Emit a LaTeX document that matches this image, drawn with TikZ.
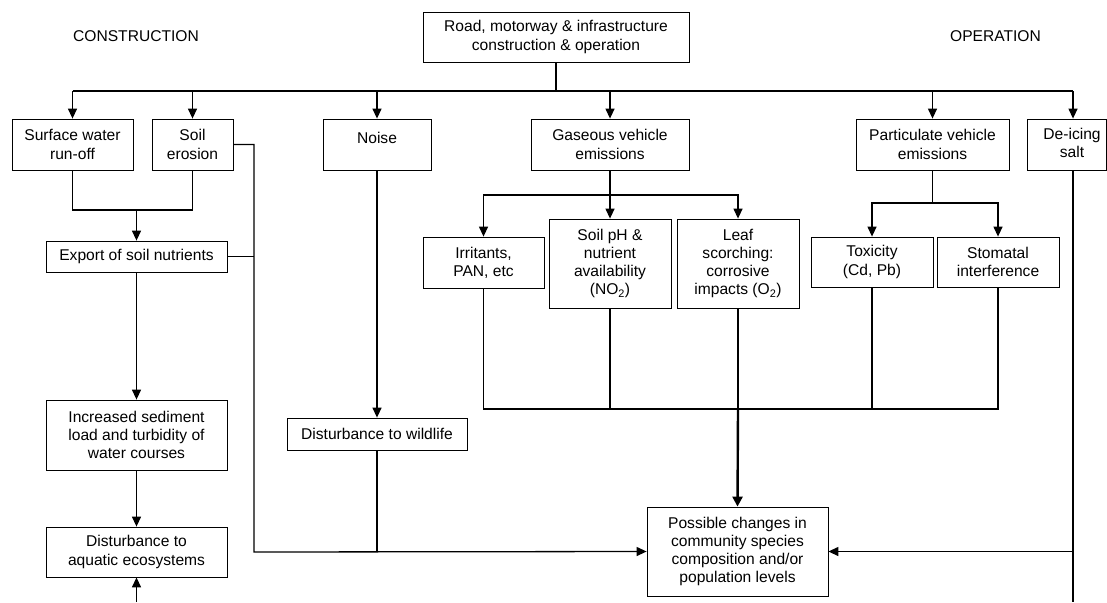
\documentclass[tikz,border=0pt]{standalone}
\usepackage{fontspec}
\setmainfont{Liberation Sans}
\usetikzlibrary{arrows.meta}
\tikzset{
  box/.style={draw, line width=0.8pt, rectangle, inner sep=0pt, align=center,
    font=\fontsize{15.6}{18.3}\selectfont},
  lbl/.style={inner sep=0pt, font=\fontsize{15.6}{18.3}\selectfont},
  conn/.style={line width=1.3pt},
  arr/.style={line width=1.3pt, -{Triangle[length=10pt,width=9pt]}},
  thickarr/.style={line width=2.4pt, -{Triangle[length=10pt,width=10pt]}},
}
\begin{document}
\begin{tikzpicture}[x=1pt,y=-1pt]
\useasboundingbox (0,0) rectangle (1107,602);

% labels
\node[lbl] (cons) at (136,36) {CONSTRUCTION};
\node[lbl] (oper) at (995.5,36) {OPERATION};

% boxes
\node[box, minimum width=266, minimum height=50] (top) at (556,37) {Road, motorway \& infrastructure\\construction \& operation};
\node[box, minimum width=121, minimum height=51] (sw) at (72.5,144.5) {Surface water\\run-off};
\node[box, minimum width=81, minimum height=51] (se) at (192.5,144.5) {Soil\\erosion};
\node[box, minimum width=108, minimum height=51, text depth=14pt] (noise) at (377,144.5) {Noise};
\node[box, minimum width=158, minimum height=51] (gas) at (610,144.5) {Gaseous vehicle\\emissions};
\node[box, minimum width=153, minimum height=51] (part) at (932.5,144.5) {Particulate vehicle\\emissions};
\node[box, minimum width=79, minimum height=51] (deice) at (1066.5,144.5) {\kern11pt\begin{tabular}{@{}c@{}}De-icing\\salt\end{tabular}};

\node[box, minimum width=181, minimum height=31] (export) at (136.5,256.5) {Export of soil nutrients};
\node[box, minimum width=181, minimum height=70] (sed) at (136.5,435) {Increased sediment\\load and turbidity of\\water courses};
\node[box, minimum width=181, minimum height=50] (aqua) at (136.5,552) {Disturbance to\\aquatic ecosystems};
\node[box, minimum width=180, minimum height=32] (wild) at (377,434) {Disturbance to wildlife};

\node[box, minimum width=121, minimum height=51] (irr) at (483.5,262.5) {Irritants,\\PAN, etc};
\node[box, minimum width=122, minimum height=89] (ph) at (610,263.5) {Soil pH \&\\nutrient\\availability\\(NO\textsubscript{2})};
\node[box, minimum width=122, minimum height=89] (leaf) at (738,263.5) {Leaf\\scorching:\\corrosive\\impacts (O\textsubscript{2})};
\node[box, minimum width=122, minimum height=50] (tox) at (872,262) {Toxicity\\(Cd, Pb)};
\node[box, minimum width=122, minimum height=50] (stom) at (998,262) {Stomatal\\interference};

\node[box, minimum width=181, minimum height=89] (poss) at (737.5,551.5) {Possible changes in\\community species\\composition and/or\\population levels};

% coordinates
\coordinate (bus) at (556,91);
\coordinate (bL) at (72.5,91);
\coordinate (bR) at (1073,91);
\coordinate (m) at (136.5,210);
\coordinate (jl) at (254,552);
\coordinate (g) at (610,195);
\coordinate (p) at (932.5,203);
\coordinate (c) at (738,409);
\coordinate (dbot) at (1073,602);
\coordinate (abot) at (136.5,602);

% main bus
\draw[line width=2.2pt] (top.south) -- (bus);
\draw[conn] (bL) -- (bR);
\draw[arr] (bL) -- (sw.north);
\draw[arr] (se.north |- bus) -- (se.north);
\draw[arr] (noise.north |- bus) -- (noise.north);
\draw[arr] (gas.north |- bus) -- (gas.north);
\draw[arr] (part.north |- bus) -- (part.north);
\draw[arr] (bR) -- (bR |- deice.north);

% construction branch
\draw[conn] (sw.south) -- (sw.south |- m) -- (se.south |- m) -- (se.south);
\draw[arr] (m) -- (export.north);
\draw[arr] (export.south) -- (sed.north);
\draw[arr] (sed.south) -- (aqua.north);
\draw[arr] (abot) -- (aqua.south);
\draw[arr] (se.east) -| (jl) -- (poss.west);
\draw[conn] (export.east) -- (export.east -| jl);

% noise
\draw[arr] (noise.south) -- (wild.north);
\draw[conn] (wild.south) -- (wild.south |- jl);

% gaseous
\draw[conn] (gas.south) -- (g);
\draw[arr] (g) -| (irr.north);
\draw[arr] (g) -- (ph.north);
\draw[arr] (g) -| (leaf.north);

% particulate
\draw[conn] (part.south) -- (p);
\draw[arr] (p) -| (tox.north);
\draw[arr] (p) -| (stom.north);

% collector
\draw[conn] (irr.south) |- (c);
\draw[conn] (ph.south) -- (ph.south |- c);
\draw[conn] (leaf.south) -- (c);
\draw[conn] (stom.south) |- (c);
\draw[conn] (tox.south) -- (tox.south |- c);
\draw[thickarr] (c) -- (poss.north);

% de-icing
\draw[conn] (bR |- deice.south) -- (dbot);
\draw[arr] (dbot |- poss.east) -- (poss.east);
\end{tikzpicture}
\end{document}
